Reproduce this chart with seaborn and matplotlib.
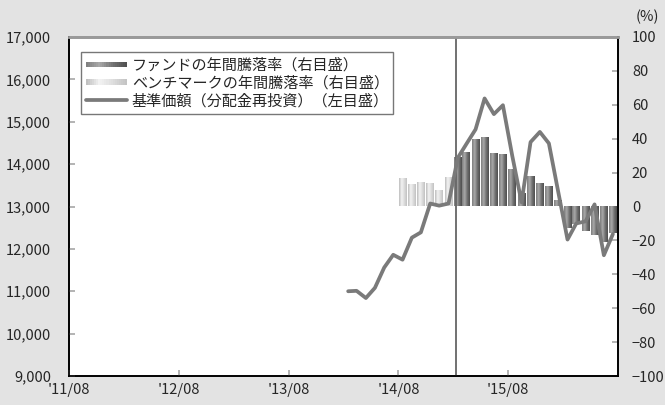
import numpy as np
import pandas as pd
import seaborn as sns
import matplotlib
matplotlib.use('Agg')
import matplotlib.pyplot as plt
import matplotlib.dates as mdates
from matplotlib.colors import LinearSegmentedColormap
from matplotlib.patches import Rectangle
from matplotlib.lines import Line2D
from matplotlib.legend_handler import HandlerBase

# 基準価額（分配金再投資）, 2014/02〜2016/07 月次
nav = [11000, 11010, 10840, 11080, 11560, 11860, 11745, 12265, 12390, 13070,
       13020, 13070, 14150, 14470, 14820, 15550, 15180, 15390, 14200, 13100,
       14520, 14760, 14490, 13350, 12220, 12600, 12650, 13050, 11850, 12350]
# ベンチマークの年間騰落率 (2014/08〜2015/01)
bench_ret = [16.0, 12.4, 13.6, 13.0, 8.9, 16.6]
# ファンドの年間騰落率 (2015/02〜2016/07)
fund_ret = [28.8, 31.4, 39.1, 40.6, 30.8, 30.2, 21.3, 7.1, 17.2, 13.0,
            11.6, 3.1, -12.4, -10.6, -14.6, -16.6, -21.0, -15.6]

dates = pd.date_range('2014-02-15', periods=len(nav), freq=pd.DateOffset(months=1))
bench_dates = dates[6:12]
fund_dates = dates[12:]
one_year_mark = pd.Timestamp('2015-02-08')

xtick_dates = pd.to_datetime(['2011-08-01', '2012-08-01', '2013-08-01', '2014-08-01', '2015-08-01'])
xtick_labels = ["'11/08", "'12/08", "'13/08", "'14/08", "'15/08"]
x_end = pd.Timestamp('2016-08-01')

left_ticks = list(range(9000, 17001, 1000))
right_ticks = list(range(-100, 101, 20))

labels = ['ファンドの年間騰落率（右目盛）',
          'ベンチマークの年間騰落率（右目盛）',
          '基準価額（分配金再投資）（左目盛）']

sns.set_theme(style='white')
plt.rcParams['font.family'] = ['Noto Sans CJK JP', 'DejaVu Sans']
plt.rcParams['axes.unicode_minus'] = True

fund_cmap = LinearSegmentedColormap.from_list('fund', ['#7d7d7d', '#a9a9a9', '#707070', '#4f4f4f'])
bench_cmap = LinearSegmentedColormap.from_list('bench', ['#bcbcbc', '#f3f3f3', '#dcdcdc', '#c2c2c2'])
line_color = '#7a7a7a'

df = pd.DataFrame({'date': mdates.date2num(dates), 'nav': nav})

fig = plt.figure(figsize=(6.65, 4.05), dpi=100)
fig.patch.set_facecolor('#e3e3e3')
ax = fig.add_axes([69 / 665, 29 / 405, 549 / 665, 339 / 405])
ax2 = ax.twinx()

# 棒グラフ（右目盛）
def shaded_bars(axis, x, y, cmap):
    bars = axis.bar(x, y, width=26.5, color='none', edgecolor='none')
    grad = np.linspace(0, 1, 64).reshape(1, -1)
    for b in bars:
        x0, y0 = b.get_x(), b.get_y()
        axis.imshow(grad, cmap=cmap, aspect='auto', interpolation='bilinear',
                    extent=[x0, x0 + b.get_width(), y0, y0 + b.get_height()], zorder=2)

shaded_bars(ax2, mdates.date2num(bench_dates), bench_ret, bench_cmap)
shaded_bars(ax2, mdates.date2num(fund_dates), fund_ret, fund_cmap)

# 基準価額（左目盛）
ax.axvline(mdates.date2num(one_year_mark), color='#666666', lw=1.3, zorder=1)
sns.lineplot(data=df, x='date', y='nav', ax=ax, color=line_color, lw=2.7, zorder=3)

ax.set_zorder(ax2.get_zorder() + 1)
ax.patch.set_visible(False)
ax2.patch.set_visible(True)
ax2.patch.set_facecolor('white')

ax.set_xlim(mdates.date2num(xtick_dates[0]), mdates.date2num(x_end))
ax.set_ylim(9000, 17000)
ax2.set_ylim(-100, 100)

ax.set_xticks(mdates.date2num(xtick_dates))
ax.set_xticklabels(xtick_labels)
ax.set_yticks(left_ticks)
ax.set_yticklabels([f'{v:,}' for v in left_ticks])
ax2.set_yticks(right_ticks)
ax2.set_yticklabels([f'{v}'.replace('-', '\u2212') for v in right_ticks])
ax.set_xlabel('')
ax.set_ylabel('')

ax.tick_params(axis='x', direction='in', length=4, color='#aaaaaa', pad=5, labelsize=10.5, bottom=True)
ax.tick_params(axis='y', direction='in', length=4, color='#aaaaaa', pad=13, labelsize=10.5, left=True, right=False)
ax2.tick_params(axis='y', direction='in', length=4, color='#aaaaaa', pad=10, labelsize=10.5, right=True)

for a in (ax, ax2):
    for side in ('left', 'right', 'bottom'):
        a.spines[side].set_color('black')
        a.spines[side].set_linewidth(1.2)
    a.spines['top'].set_color('#9a9a9a')
    a.spines['top'].set_linewidth(2)
    a.grid(False)

fig.text(647 / 665, 1 - 17 / 405, '(%)', ha='center', va='center', fontsize=10.5)

# 凡例
class GradHandler(HandlerBase):
    def __init__(self, cmap):
        super().__init__()
        self.cmap = cmap

    def create_artists(self, legend, orig, xd, yd, width, height, fontsize, trans):
        n = 20
        h = height * 0.55
        arts = []
        for i in range(n):
            arts.append(Rectangle((-xd + width * i / n, -yd + (height - h) / 2), width / n, h,
                                  facecolor=self.cmap((i + 0.5) / n), edgecolor='none', transform=trans))
        return arts

h_fund = Rectangle((0, 0), 1, 1)
h_bench = Rectangle((0, 0), 1, 1)
h_line = Line2D([], [], color=line_color, lw=2.7)
leg = ax.legend([h_fund, h_bench, h_line], labels,
                handler_map={h_fund: GradHandler(fund_cmap), h_bench: GradHandler(bench_cmap)},
                loc='upper left', bbox_to_anchor=(0.022, 0.955), borderaxespad=0,
                fontsize=10.9, handlelength=2.75, handletextpad=0.3, labelspacing=0.05,
                borderpad=0.3, fancybox=False, framealpha=1, edgecolor='#777777')
leg.get_frame().set_linewidth(1)

fig.savefig('out.png', dpi=100, facecolor=fig.get_facecolor())
